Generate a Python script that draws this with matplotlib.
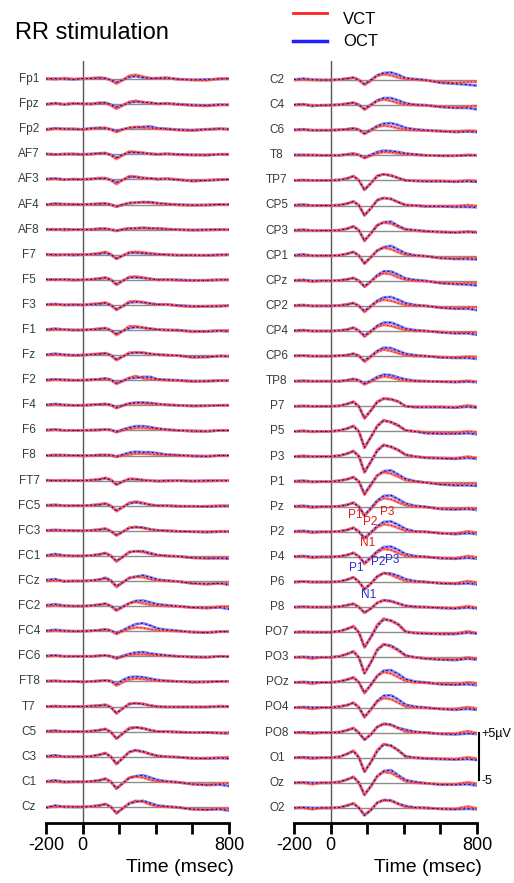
import matplotlib.pyplot as plt

plt.rcParams['font.family'] = ['Liberation Sans', 'DejaVu Sans']

W, H = 514, 883

# sample times (ms) of the traced waveforms
times = [-200, -150, -100, -50, 0, 50, 90, 125, 155, 185, 220, 255,
         290, 330, 370, 410, 460, 520, 600, 680, 750, 800]

left_channels = ["Fp1", "Fpz", "Fp2", "AF7", "AF3", "AF4", "AF8", "F7", "F5", "F3",
                 "F1", "Fz", "F2", "F4", "F6", "F8", "FT7", "FC5", "FC3", "FC1",
                 "FCz", "FC2", "FC4", "FC6", "FT8", "T7", "C5", "C3", "C1", "Cz"]
right_channels = ["C2", "C4", "C6", "T8", "TP7", "CP5", "CP3", "CP1", "CPz", "CP2",
                  "CP4", "CP6", "TP8", "P7", "P5", "P3", "P1", "Pz", "P2", "P4",
                  "P6", "P8", "PO7", "PO3", "POz", "PO4", "PO8", "O1", "Oz", "O2"]

# amplitudes in microvolts, positive up
vct_left = {
    "Fp1": [0.1, -0.1, 0.2, 0.0, 0.0, 0.2, 0.3, 0.2, -0.3, -1.0, -0.2, 0.7, 0.9, 0.5, 0.2, 0.1, 0.3, -0.1, -0.2, -0.3, 0.1, 0.0],
    "Fpz": [-0.1, 0.1, 0.0, 0.2, 0.0, 0.1, 0.3, 0.2, -0.3, -1.0, -0.3, 0.5, 0.7, 0.4, 0.2, 0.0, 0.2, -0.1, -0.3, -0.4, -0.2, -0.1],
    "Fp2": [-0.2, 0.1, 0.0, 0.1, -0.1, 0.1, 0.2, 0.3, -0.1, -0.6, -0.1, 0.3, 0.5, 0.3, 0.2, 0.1, 0.0, -0.2, -0.3, -0.1, 0.1, 0.0],
    "AF7": [0.0, -0.1, 0.1, 0.0, -0.1, 0.0, 0.2, 0.3, -0.2, -1.0, -0.2, 0.6, 0.5, 0.3, 0.1, 0.0, 0.1, -0.1, -0.2, -0.1, 0.0, 0.0],
    "AF3": [0.0, 0.1, -0.1, 0.1, 0.0, 0.1, 0.3, 0.3, -0.2, -1.0, -0.1, 0.7, 0.6, 0.3, 0.2, 0.0, 0.2, 0.0, -0.4, -0.2, 0.0, 0.0],
    "AF4": [-0.1, 0.1, 0.0, 0.1, 0.0, 0.0, 0.2, 0.2, -0.1, -0.5, -0.1, 0.3, 0.4, 0.5, 0.4, 0.2, 0.1, -0.1, -0.2, -0.1, 0.0, 0.0],
    "AF8": [0.0, 0.1, -0.1, 0.0, 0.0, 0.1, 0.1, 0.2, 0.0, -0.3, 0.1, 0.3, 0.2, 0.3, 0.2, 0.3, 0.1, 0.0, -0.1, -0.1, 0.0, 0.0],
    "F7": [0.0, -0.1, 0.0, 0.1, 0.0, 0.1, 0.3, 0.6, 0.1, -0.9, -0.2, 0.5, 0.6, 0.5, 0.3, 0.1, 0.0, -0.1, -0.1, -0.2, -0.1, 0.0],
    "F5": [0.0, 0.1, 0.0, -0.1, 0.0, 0.1, 0.3, 0.5, 0.0, -1.1, -0.2, 0.6, 0.7, 0.5, 0.2, 0.0, 0.1, -0.1, -0.2, -0.1, 0.0, 0.0],
    "F3": [0.0, 0.1, 0.0, 0.1, 0.0, 0.2, 0.3, 0.5, 0.0, -1.1, -0.2, 0.7, 0.8, 0.5, 0.2, 0.1, 0.1, -0.2, -0.4, -0.3, -0.2, -0.1],
    "F1": [0.0, 0.1, 0.1, 0.0, 0.0, 0.1, 0.3, 0.4, -0.1, -1.1, -0.2, 0.8, 0.8, 0.5, 0.2, 0.1, 0.0, -0.1, -0.4, -0.3, -0.1, -0.1],
    "Fz": [0.0, 0.1, 0.0, -0.1, 0.0, 0.2, 0.3, 0.4, -0.1, -1.1, -0.3, 0.5, 0.6, 0.5, 0.2, 0.1, 0.0, -0.1, -0.5, -0.4, -0.2, -0.2],
    "F2": [-0.1, 0.1, 0.0, 0.0, 0.0, 0.1, 0.2, 0.3, 0.0, -0.8, -0.2, 0.5, 0.9, 0.4, 0.2, 0.1, 0.0, -0.1, -0.3, -0.2, -0.1, -0.1],
    "F4": [0.0, 0.1, 0.0, 0.0, 0.0, 0.1, 0.2, 0.2, 0.0, -0.6, -0.1, 0.3, 0.4, 0.4, 0.3, 0.2, 0.1, 0.0, -0.2, -0.1, 0.0, 0.0],
    "F6": [0.0, 0.1, 0.0, 0.0, 0.0, 0.0, 0.1, 0.2, 0.1, -0.4, 0.0, 0.3, 0.5, 0.5, 0.4, 0.3, 0.1, 0.0, -0.2, -0.2, 0.0, 0.0],
    "F8": [0.0, 0.1, 0.0, 0.0, -0.1, 0.0, 0.1, 0.1, 0.0, -0.3, 0.0, 0.2, 0.4, 0.4, 0.3, 0.2, 0.1, 0.0, -0.1, -0.1, 0.0, 0.0],
    "FT7": [0.0, 0.0, 0.1, 0.0, 0.0, 0.1, 0.3, 0.6, 0.2, -0.9, -0.2, 0.4, 0.3, 0.1, 0.0, -0.1, -0.1, 0.0, -0.1, -0.1, 0.0, 0.0],
    "FC5": [0.0, 0.1, 0.0, 0.0, 0.0, 0.1, 0.3, 0.5, 0.0, -1.2, -0.3, 0.6, 0.9, 0.6, 0.2, 0.0, 0.0, -0.1, -0.2, -0.1, 0.0, 0.0],
    "FC3": [0.0, 0.1, 0.0, 0.1, 0.0, 0.1, 0.3, 0.5, -0.1, -1.0, -0.2, 0.7, 0.8, 0.6, 0.3, 0.1, 0.0, -0.1, -0.2, -0.2, -0.1, -0.1],
    "FC1": [0.0, 0.1, 0.0, 0.0, 0.0, 0.1, 0.3, 0.6, 0.0, -1.2, -0.2, 0.8, 1.0, 0.8, 0.4, 0.1, 0.0, -0.1, -0.4, -0.5, -0.4, -0.3],
    "FCz": [0.0, 0.1, 0.0, 0.0, 0.0, 0.1, 0.3, 0.5, 0.0, -1.3, -0.3, 0.7, 0.9, 0.8, 0.4, 0.1, 0.0, -0.1, -0.5, -0.7, -0.5, -0.4],
    "FC2": [0.0, 0.1, 0.0, 0.0, 0.0, 0.1, 0.3, 0.5, 0.0, -1.0, -0.2, 0.6, 0.9, 0.6, 0.3, 0.1, 0.0, -0.1, -0.3, -0.4, -0.1, -0.1],
    "FC4": [0.0, 0.1, 0.0, 0.0, 0.0, 0.1, 0.2, 0.4, 0.1, -0.6, 0.0, 0.5, 0.8, 0.7, 0.4, 0.2, 0.1, 0.0, -0.2, -0.3, -0.1, 0.0],
    "FC6": [0.0, 0.1, 0.0, 0.0, 0.0, 0.0, 0.1, 0.2, 0.0, -0.5, -0.1, 0.3, 0.4, 0.4, 0.3, 0.2, 0.1, 0.0, -0.2, -0.2, 0.0, 0.0],
    "FT8": [0.0, 0.1, 0.0, 0.0, -0.1, 0.0, 0.1, 0.2, 0.0, -0.9, -0.2, 0.4, 0.6, 0.5, 0.3, 0.1, 0.1, 0.0, -0.2, -0.1, 0.0, 0.0],
    "T7": [0.0, 0.0, 0.0, 0.0, 0.0, 0.1, 0.2, 0.4, -0.1, -1.5, -0.4, 0.6, 0.7, 0.6, 0.2, -0.1, -0.1, -0.1, -0.1, -0.1, 0.1, 0.0],
    "C5": [0.0, 0.1, 0.0, 0.0, 0.0, 0.1, 0.3, 0.6, -0.1, -1.5, -0.4, 0.8, 0.9, 0.7, 0.3, 0.0, 0.0, -0.1, -0.2, -0.2, -0.3, -0.2],
    "C3": [0.0, 0.1, 0.0, 0.0, 0.0, 0.1, 0.4, 0.8, 0.0, -1.6, -0.3, 1.0, 1.3, 1.0, 0.5, 0.1, 0.0, -0.1, -0.4, -0.3, -0.2, -0.1],
    "C1": [0.0, 0.1, -0.1, 0.0, 0.0, 0.1, 0.3, 0.7, 0.0, -1.5, -0.3, 0.9, 1.1, 0.9, 0.4, 0.1, 0.0, -0.1, -0.5, -0.6, -0.4, -0.3],
    "Cz": [0.0, 0.0, 0.1, 0.0, 0.0, 0.1, 0.3, 0.6, 0.0, -1.4, -0.3, 0.8, 1.3, 1.1, 0.5, 0.1, 0.0, -0.1, -0.5, -0.6, -0.3, -0.4],
}
oct_left = {
    "Fp1": [0.0, 0.1, 0.0, -0.1, 0.1, 0.1, 0.2, 0.1, -0.2, -0.7, -0.2, 0.4, 0.6, 0.3, 0.1, 0.2, 0.2, 0.0, -0.2, -0.1, 0.0, 0.1],
    "Fpz": [0.0, 0.2, -0.1, 0.1, 0.1, 0.0, 0.2, 0.3, -0.1, -0.6, -0.2, 0.3, 0.5, 0.4, 0.3, 0.1, 0.1, 0.0, -0.2, -0.3, -0.1, -0.2],
    "Fp2": [0.0, 0.2, 0.1, 0.0, 0.0, 0.2, 0.3, 0.2, 0.0, -0.4, 0.0, 0.3, 0.4, 0.5, 0.6, 0.2, 0.1, -0.1, -0.2, 0.0, 0.1, 0.0],
    "AF7": [0.1, 0.0, 0.0, 0.1, 0.0, 0.1, 0.2, 0.2, -0.1, -0.7, -0.1, 0.4, 0.4, 0.3, 0.1, 0.0, 0.1, 0.0, -0.1, -0.2, 0.0, 0.0],
    "AF3": [0.1, 0.2, 0.0, 0.0, 0.0, 0.1, 0.2, 0.2, -0.1, -0.6, -0.1, 0.5, 0.5, 0.3, 0.2, 0.1, 0.1, -0.1, -0.3, -0.2, -0.1, 0.0],
    "AF4": [0.0, 0.2, 0.1, 0.0, 0.0, 0.1, 0.1, 0.2, 0.0, -0.4, 0.0, 0.3, 0.4, 0.5, 0.5, 0.3, 0.1, 0.0, -0.1, -0.1, 0.0, 0.0],
    "AF8": [0.1, 0.0, 0.1, 0.0, 0.0, 0.0, 0.2, 0.2, 0.0, -0.2, 0.0, 0.2, 0.3, 0.4, 0.3, 0.2, 0.1, 0.0, -0.1, 0.0, 0.0, 0.0],
    "F7": [0.1, 0.0, 0.0, -0.1, 0.0, 0.1, 0.2, 0.4, 0.0, -0.8, -0.2, 0.4, 0.4, 0.3, 0.2, 0.1, 0.0, -0.1, -0.1, -0.1, 0.0, 0.0],
    "F5": [0.1, 0.0, 0.1, 0.0, 0.0, 0.1, 0.2, 0.4, 0.0, -0.9, -0.2, 0.5, 0.5, 0.4, 0.2, 0.0, 0.0, 0.0, -0.1, -0.1, 0.0, 0.0],
    "F3": [0.1, 0.2, 0.0, 0.0, 0.0, 0.1, 0.2, 0.4, -0.1, -0.9, -0.3, 0.5, 0.6, 0.6, 0.3, 0.1, 0.1, -0.1, -0.3, -0.3, -0.3, -0.2],
    "F1": [0.1, 0.3, 0.1, 0.0, 0.0, 0.1, 0.2, 0.4, -0.1, -0.8, -0.2, 0.4, 0.6, 0.5, 0.3, 0.1, 0.0, 0.0, -0.3, -0.3, -0.2, -0.3],
    "Fz": [0.1, 0.3, 0.1, 0.0, 0.0, 0.1, 0.2, 0.4, 0.0, -0.9, -0.3, 0.4, 0.5, 0.5, 0.3, 0.1, 0.0, -0.1, -0.4, -0.4, -0.2, -0.3],
    "F2": [0.1, 0.2, 0.1, 0.0, 0.0, 0.1, 0.2, 0.4, 0.1, -0.6, -0.1, 0.4, 0.5, 0.7, 0.7, 0.2, 0.1, 0.0, -0.2, -0.2, -0.1, -0.1],
    "F4": [0.1, 0.3, 0.1, 0.0, 0.0, 0.1, 0.2, 0.3, 0.1, -0.5, 0.0, 0.4, 0.6, 0.6, 0.5, 0.3, 0.1, 0.0, -0.1, -0.1, 0.0, 0.0],
    "F6": [0.1, 0.2, 0.0, 0.0, 0.0, 0.1, 0.1, 0.2, 0.1, -0.3, 0.2, 0.6, 0.9, 0.9, 0.7, 0.4, 0.2, 0.0, -0.1, -0.2, 0.0, 0.0],
    "F8": [0.0, 0.1, 0.1, 0.0, 0.0, 0.0, 0.1, 0.1, 0.1, -0.2, 0.2, 0.6, 0.8, 0.7, 0.7, 0.5, 0.2, 0.1, -0.1, -0.2, 0.0, 0.0],
    "FT7": [0.1, 0.0, 0.0, 0.0, 0.0, 0.1, 0.2, 0.5, 0.1, -0.8, -0.2, 0.3, 0.3, 0.1, 0.0, -0.1, 0.0, 0.0, -0.1, 0.0, 0.0, 0.0],
    "FC5": [0.1, 0.2, 0.0, 0.0, 0.0, 0.1, 0.2, 0.4, -0.1, -1.0, -0.3, 0.5, 0.7, 0.5, 0.2, 0.0, 0.0, -0.1, -0.1, -0.2, -0.1, -0.1],
    "FC3": [0.1, 0.2, 0.1, 0.0, 0.0, 0.1, 0.2, 0.4, -0.1, -0.9, -0.2, 0.6, 0.8, 0.7, 0.3, 0.1, 0.0, -0.1, -0.2, -0.3, -0.2, -0.2],
    "FC1": [0.1, 0.4, 0.1, 0.0, 0.0, 0.1, 0.3, 0.6, 0.0, -1.1, -0.2, 0.8, 1.0, 1.0, 0.6, 0.2, 0.0, -0.1, -0.4, -0.5, -0.5, -0.6],
    "FCz": [0.2, 0.4, -0.1, 0.0, 0.0, 0.1, 0.3, 0.7, 0.1, -1.1, -0.3, 0.6, 0.9, 1.2, 0.8, 0.3, 0.1, -0.1, -0.5, -0.6, -0.5, -0.8],
    "FC2": [0.2, 0.4, 0.1, 0.0, 0.0, 0.1, 0.3, 0.5, 0.0, -0.8, -0.1, 0.6, 1.1, 1.2, 0.8, 0.4, 0.2, 0.0, -0.3, -0.4, -0.3, -0.6],
    "FC4": [0.1, 0.3, 0.1, 0.0, 0.0, 0.1, 0.2, 0.4, 0.1, -0.4, 0.2, 0.9, 1.5, 1.7, 1.2, 0.6, 0.3, 0.1, -0.2, -0.3, -0.1, -0.1],
    "FC6": [0.1, 0.2, 0.0, 0.0, 0.0, 0.0, 0.1, 0.2, 0.0, -0.4, 0.1, 0.5, 0.8, 0.9, 0.6, 0.4, 0.2, 0.0, -0.1, -0.2, 0.0, -0.1],
    "FT8": [0.1, 0.1, 0.0, 0.0, -0.1, 0.0, 0.1, 0.2, 0.1, -0.6, 0.3, 0.9, 1.0, 0.9, 0.6, 0.3, 0.1, 0.0, -0.1, -0.1, 0.0, 0.0],
    "T7": [0.0, 0.1, 0.0, 0.0, 0.0, 0.1, 0.2, 0.3, -0.2, -1.4, -0.4, 0.5, 0.7, 0.5, 0.2, 0.0, -0.1, -0.1, -0.1, -0.1, 0.0, 0.0],
    "C5": [0.1, 0.2, 0.0, 0.0, 0.0, 0.1, 0.3, 0.5, -0.1, -1.5, -0.4, 0.6, 0.9, 0.7, 0.3, 0.0, 0.0, -0.1, -0.2, -0.2, -0.3, -0.4],
    "C3": [0.1, 0.3, 0.0, 0.0, 0.0, 0.1, 0.4, 0.7, 0.0, -1.5, -0.3, 1.0, 1.4, 1.1, 0.6, 0.2, 0.0, -0.1, -0.3, -0.4, -0.3, -0.4],
    "C1": [0.1, 0.3, 0.0, 0.0, 0.0, 0.1, 0.3, 0.6, 0.0, -1.4, -0.3, 0.8, 1.2, 1.4, 0.9, 0.4, 0.1, -0.1, -0.5, -0.7, -0.6, -0.9],
    "Cz": [-0.2, 0.3, 0.0, 0.0, 0.0, 0.1, 0.3, 0.6, 0.0, -1.3, -0.3, 0.7, 1.1, 1.3, 0.8, 0.3, 0.1, -0.1, -0.5, -0.6, -0.5, -0.8],
}
vct_right = {
    "C2": [0.0, 0.1, 0.0, 0.0, 0.0, 0.1, 0.3, 0.5, 0.0, -1.0, -0.2, 0.9, 1.2, 1.0, 0.5, 0.2, 0.1, -0.1, -0.4, -0.6, -0.4, -0.4],
    "C4": [0.0, 0.1, 0.0, -0.1, 0.0, 0.1, 0.3, 0.5, 0.1, -1.0, -0.1, 0.9, 1.2, 0.9, 0.4, 0.1, 0.0, -0.1, -0.3, -0.5, -0.3, -0.2],
    "C6": [0.0, 0.1, 0.0, 0.0, 0.0, 0.1, 0.2, 0.4, 0.1, -0.8, -0.1, 0.7, 1.0, 0.8, 0.4, 0.1, 0.0, -0.1, -0.2, -0.3, -0.1, -0.2],
    "T8": [0.0, 0.0, 0.1, 0.0, 0.0, 0.0, 0.2, 0.4, 0.1, -0.6, -0.1, 0.4, 0.7, 0.6, 0.4, 0.2, 0.1, 0.0, -0.1, -0.1, 0.1, 0.0],
    "TP7": [0.0, 0.0, 0.0, 0.0, 0.0, 0.1, 0.4, 0.9, 0.0, -2.0, -0.6, 1.0, 1.3, 1.1, 0.5, 0.0, -0.1, -0.1, -0.1, -0.2, 0.0, -0.1],
    "CP5": [0.0, 0.1, 0.0, 0.0, 0.0, 0.1, 0.4, 0.9, 0.1, -2.1, -0.6, 1.2, 1.6, 1.4, 0.7, 0.1, 0.0, -0.1, -0.1, -0.1, 0.1, -0.1],
    "CP3": [0.0, 0.1, 0.0, 0.0, 0.0, 0.1, 0.4, 0.9, 0.1, -2.2, -0.6, 1.2, 1.7, 1.5, 0.8, 0.2, 0.0, -0.2, -0.3, -0.4, -0.2, -0.3],
    "CP1": [0.0, 0.1, 0.0, 0.0, 0.0, 0.1, 0.4, 0.8, 0.0, -1.7, -0.4, 1.1, 1.7, 1.4, 0.7, 0.2, 0.0, -0.1, -0.5, -0.6, -0.4, -0.5],
    "CPz": [0.0, 0.1, -0.2, 0.0, 0.0, 0.1, 0.3, 0.6, 0.0, -1.3, -0.2, 1.0, 1.6, 1.4, 0.7, 0.2, 0.0, -0.1, -0.4, -0.6, -0.4, -0.5],
    "CP2": [0.0, 0.1, 0.0, 0.0, 0.0, 0.1, 0.3, 0.6, 0.0, -1.3, -0.2, 0.9, 1.3, 1.1, 0.6, 0.2, 0.0, 0.0, -0.3, -0.5, -0.3, -0.3],
    "CP4": [0.0, 0.1, 0.0, 0.0, 0.0, 0.1, 0.3, 0.7, 0.1, -1.2, -0.2, 0.9, 1.3, 1.1, 0.6, 0.2, 0.0, 0.0, -0.2, -0.4, -0.3, -0.3],
    "CP6": [0.0, 0.1, 0.0, 0.0, 0.0, 0.1, 0.2, 0.5, 0.1, -1.2, -0.2, 0.9, 1.4, 1.1, 0.6, 0.2, 0.0, 0.0, -0.2, -0.3, -0.1, -0.2],
    "TP8": [0.0, 0.0, 0.0, 0.0, 0.0, 0.0, 0.2, 0.4, 0.1, -0.7, -0.1, 0.6, 1.0, 0.8, 0.4, 0.1, 0.0, 0.0, -0.1, -0.1, 0.1, -0.1],
    "P7": [0.0, 0.0, 0.0, 0.0, 0.0, 0.1, 0.5, 1.0, 0.0, -2.6, -0.9, 1.0, 1.7, 1.5, 1.0, 0.0, -0.1, -0.1, -0.1, -0.2, 0.2, -0.1],
    "P5": [0.0, 0.1, -0.1, 0.0, 0.0, 0.2, 0.6, 1.2, 0.0, -3.5, -1.2, 1.2, 2.4, 1.9, 1.2, 0.2, 0.0, -0.2, -0.3, -0.3, 0.0, -0.2],
    "P3": [0.0, 0.1, 0.0, 0.0, 0.0, 0.2, 0.6, 1.2, 0.1, -3.4, -1.1, 1.4, 2.5, 2.0, 1.3, 0.3, 0.0, -0.2, -0.3, -0.4, 0.0, -0.3],
    "P1": [0.0, 0.1, -0.1, 0.0, 0.0, 0.2, 0.5, 1.0, 0.0, -2.8, -0.8, 1.3, 2.0, 1.7, 1.0, 0.3, 0.0, -0.2, -0.5, -0.6, -0.4, -0.5],
    "Pz": [0.0, 0.1, -0.2, 0.0, 0.0, 0.1, 0.4, 0.9, 0.0, -2.0, -0.5, 1.1, 1.8, 1.6, 0.9, 0.3, 0.0, -0.1, -0.4, -0.5, -0.3, -0.4],
    "P2": [0.0, 0.1, -0.2, 0.0, 0.0, 0.1, 0.4, 0.9, 0.1, -1.5, -0.3, 1.0, 1.6, 1.4, 0.8, 0.2, 0.0, 0.0, -0.3, -0.4, 0.1, -0.2],
    "P4": [0.0, 0.1, -0.2, 0.0, 0.0, 0.1, 0.4, 0.9, 0.1, -1.5, -0.3, 1.0, 1.7, 1.5, 0.8, 0.2, 0.0, 0.0, -0.2, -0.3, 0.2, -0.1],
    "P6": [0.0, 0.1, 0.0, 0.0, 0.0, 0.1, 0.5, 1.0, 0.1, -1.6, -0.4, 1.1, 1.9, 1.5, 0.8, 0.2, 0.0, 0.0, -0.2, -0.3, 0.2, -0.1],
    "P8": [0.0, 0.0, 0.0, 0.0, 0.0, 0.1, 0.4, 0.7, 0.0, -1.2, -0.3, 0.9, 1.4, 1.2, 0.7, 0.2, 0.0, 0.0, -0.1, -0.2, 0.2, -0.1],
    "PO7": [0.0, 0.0, 0.0, 0.0, 0.0, 0.2, 0.7, 1.3, 0.0, -3.2, -1.0, 1.6, 2.9, 2.4, 1.6, 0.1, -0.1, -0.2, -0.3, -0.3, 0.2, -0.2],
    "PO3": [0.0, 0.0, -0.3, 0.0, 0.0, 0.2, 0.7, 1.3, 0.0, -3.4, -1.1, 1.7, 2.8, 2.3, 1.4, 0.3, 0.0, -0.2, -0.4, -0.5, 0.0, -0.3],
    "POz": [0.0, 0.0, -0.3, 0.0, 0.0, 0.2, 0.6, 1.1, 0.0, -2.3, -0.6, 1.4, 2.2, 1.9, 1.1, 0.3, 0.0, -0.1, -0.3, -0.4, 0.0, -0.2],
    "PO4": [0.0, 0.0, -0.3, 0.0, 0.0, 0.2, 0.5, 1.0, 0.0, -2.1, -0.5, 1.3, 2.0, 1.8, 1.0, 0.2, 0.0, -0.1, -0.3, -0.3, 0.1, -0.2],
    "PO8": [0.0, 0.0, -0.2, 0.0, 0.0, 0.1, 0.5, 1.0, 0.0, -1.5, -0.4, 1.2, 1.8, 1.6, 0.9, 0.2, 0.0, 0.0, -0.2, -0.2, 0.3, -0.1],
    "O1": [0.0, 0.0, -0.2, 0.0, 0.0, 0.2, 0.8, 1.5, 0.1, -3.0, -0.9, 1.6, 2.9, 2.5, 1.5, 0.2, 0.0, -0.1, -0.2, -0.3, 0.1, -0.2],
    "Oz": [0.0, 0.0, -0.3, 0.0, 0.0, 0.2, 0.7, 1.3, 0.0, -2.6, -0.8, 1.4, 2.3, 2.1, 1.2, 0.3, 0.0, -0.1, -0.3, -0.3, 0.1, -0.2],
    "O2": [0.0, 0.0, -0.3, 0.0, 0.0, 0.1, 0.5, 1.0, 0.0, -1.5, -0.4, 1.1, 1.6, 1.5, 0.8, 0.2, 0.0, 0.0, -0.2, -0.2, 0.3, -0.1],
}
oct_right = {
    "C2": [0.1, 0.3, 0.1, 0.0, 0.0, 0.1, 0.3, 0.5, 0.0, -0.9, 0.0, 1.0, 1.5, 1.6, 1.1, 0.4, 0.2, 0.0, -0.6, -0.8, -1.0, -1.2],
    "C4": [0.1, 0.2, -0.2, 0.0, 0.0, 0.1, 0.3, 0.5, 0.0, -0.8, 0.1, 1.0, 1.5, 1.5, 1.0, 0.4, 0.1, 0.0, -0.4, -0.6, -0.6, -0.9],
    "C6": [0.1, 0.2, 0.0, 0.0, 0.0, 0.1, 0.2, 0.4, 0.1, -0.7, 0.1, 0.9, 1.4, 1.5, 1.1, 0.5, 0.2, 0.0, -0.2, -0.4, -0.3, -0.4],
    "T8": [0.1, 0.1, 0.0, 0.0, 0.0, 0.0, 0.2, 0.3, 0.1, -0.5, 0.1, 0.7, 1.0, 0.9, 0.7, 0.4, 0.2, 0.0, -0.1, -0.1, 0.0, 0.0],
    "TP7": [0.0, 0.1, 0.0, 0.0, 0.0, 0.1, 0.4, 0.9, 0.0, -2.0, -0.6, 0.9, 1.3, 1.0, 0.5, 0.0, -0.1, -0.2, -0.2, -0.3, -0.2, -0.3],
    "CP5": [0.1, 0.2, 0.0, 0.0, 0.0, 0.1, 0.4, 0.8, 0.0, -2.1, -0.6, 1.1, 1.6, 1.4, 0.7, 0.1, 0.0, -0.2, -0.2, -0.3, -0.3, -0.4],
    "CP3": [0.1, 0.2, 0.0, 0.0, 0.0, 0.1, 0.4, 0.9, 0.0, -2.1, -0.6, 1.1, 1.8, 1.9, 1.0, 0.3, 0.1, -0.1, -0.3, -0.4, -0.3, -0.4],
    "CP1": [0.1, 0.3, 0.0, 0.0, 0.0, 0.1, 0.4, 0.8, 0.0, -1.6, -0.3, 1.1, 1.8, 2.1, 1.3, 0.5, 0.1, -0.1, -0.5, -0.7, -0.7, -0.8],
    "CPz": [0.1, 0.2, 0.0, 0.0, 0.0, 0.1, 0.3, 0.6, 0.0, -1.2, -0.1, 1.2, 2.0, 2.0, 1.3, 0.5, 0.2, 0.0, -0.5, -0.7, -0.8, -1.0],
    "CP2": [0.1, 0.2, 0.0, 0.0, 0.0, 0.1, 0.3, 0.6, 0.0, -1.1, 0.0, 1.1, 1.8, 1.9, 1.3, 0.6, 0.2, 0.0, -0.4, -0.6, -0.6, -0.9],
    "CP4": [0.1, 0.2, 0.0, 0.0, 0.0, 0.1, 0.3, 0.7, 0.0, -1.0, 0.0, 1.1, 1.8, 1.8, 1.2, 0.5, 0.2, 0.0, -0.3, -0.5, -0.5, -0.8],
    "CP6": [0.1, 0.1, 0.0, 0.0, 0.0, 0.1, 0.2, 0.5, 0.0, -1.0, 0.0, 1.1, 1.8, 1.7, 1.1, 0.5, 0.2, 0.0, -0.3, -0.4, -0.4, -0.6],
    "TP8": [0.0, 0.1, 0.0, 0.0, 0.0, 0.0, 0.2, 0.5, 0.2, -0.5, 0.1, 0.9, 1.4, 1.3, 0.8, 0.4, 0.1, 0.0, -0.1, -0.2, -0.1, -0.2],
    "P7": [0.0, 0.1, 0.0, 0.0, 0.0, 0.1, 0.5, 0.9, -0.1, -2.5, -0.9, 0.9, 1.6, 1.5, 1.0, 0.0, -0.2, -0.2, -0.2, -0.3, -0.1, -0.3],
    "P5": [0.0, 0.1, 0.0, 0.0, 0.0, 0.2, 0.6, 1.1, -0.1, -3.4, -1.2, 1.1, 2.3, 2.0, 1.3, 0.2, 0.0, -0.4, -0.5, -0.5, -0.4, -0.6],
    "P3": [0.0, 0.1, 0.0, 0.0, 0.0, 0.2, 0.6, 1.1, 0.0, -3.3, -1.1, 1.2, 2.4, 2.1, 1.4, 0.4, 0.0, -0.3, -0.4, -0.5, -0.3, -0.5],
    "P1": [0.1, 0.2, 0.0, 0.0, 0.0, 0.2, 0.5, 0.9, 0.0, -2.6, -0.6, 1.3, 2.2, 2.4, 1.5, 0.6, 0.1, -0.2, -0.6, -0.8, -0.8, -0.9],
    "Pz": [0.1, 0.2, 0.0, 0.0, 0.0, 0.1, 0.4, 0.8, 0.0, -1.8, -0.3, 1.3, 2.3, 2.4, 1.6, 0.7, 0.2, 0.0, -0.5, -0.6, -0.5, -0.7],
    "P2": [0.1, 0.2, 0.0, 0.0, 0.0, 0.1, 0.4, 0.8, 0.0, -1.3, -0.1, 1.2, 2.1, 2.2, 1.5, 0.6, 0.1, 0.0, -0.3, -0.5, -0.3, -0.5],
    "P4": [0.1, 0.2, 0.0, 0.0, 0.0, 0.1, 0.4, 0.8, 0.1, -1.3, -0.1, 1.2, 2.1, 2.2, 1.5, 0.6, 0.2, 0.0, -0.3, -0.4, -0.2, -0.4],
    "P6": [0.0, 0.1, 0.0, 0.0, 0.0, 0.1, 0.5, 1.0, 0.0, -1.5, -0.3, 1.2, 1.9, 1.8, 1.3, 0.6, 0.2, 0.0, -0.3, -0.4, -0.3, -0.5],
    "P8": [0.0, 0.1, 0.0, 0.0, 0.0, 0.1, 0.4, 0.7, 0.0, -1.2, -0.3, 0.9, 1.5, 1.3, 0.8, 0.3, 0.1, 0.0, -0.2, -0.3, -0.1, -0.3],
    "PO7": [0.0, 0.1, 0.0, 0.0, 0.0, 0.2, 0.7, 1.2, -0.1, -3.2, -1.1, 1.3, 2.7, 2.5, 1.7, 0.1, -0.2, -0.3, -0.4, -0.4, -0.1, -0.3],
    "PO3": [0.0, 0.1, 0.0, 0.0, 0.0, 0.2, 0.7, 1.2, -0.1, -3.4, -1.1, 1.5, 2.7, 2.5, 1.6, 0.4, 0.0, -0.3, -0.5, -0.6, -0.3, -0.5],
    "POz": [0.0, 0.1, 0.0, 0.0, 0.0, 0.2, 0.6, 1.0, 0.0, -2.2, -0.5, 1.4, 2.5, 2.6, 1.8, 0.7, 0.2, 0.0, -0.4, -0.5, -0.4, -0.6],
    "PO4": [0.0, 0.1, 0.0, 0.0, 0.0, 0.2, 0.5, 1.0, 0.0, -2.0, -0.4, 1.4, 2.5, 2.6, 1.7, 0.6, 0.2, 0.0, -0.3, -0.5, -0.3, -0.5],
    "PO8": [0.0, 0.1, 0.0, 0.0, 0.0, 0.1, 0.5, 0.9, -0.1, -1.5, -0.4, 1.2, 1.9, 1.7, 1.0, 0.6, 0.2, 0.0, -0.3, -0.4, -0.2, -0.3],
    "O1": [0.0, 0.1, 0.0, 0.0, 0.0, 0.2, 0.8, 1.4, 0.0, -3.0, -1.0, 1.4, 2.8, 2.6, 1.6, 0.3, 0.0, -0.2, -0.3, -0.4, -0.3, -0.5],
    "Oz": [0.0, 0.1, 0.0, 0.0, 0.0, 0.2, 0.7, 1.2, 0.0, -2.5, -0.7, 1.4, 2.5, 2.7, 1.6, 0.6, 0.2, -0.1, -0.4, -0.4, -0.3, -0.6],
    "O2": [0.0, 0.1, 0.0, 0.0, 0.0, 0.1, 0.5, 0.9, 0.0, -1.6, -0.5, 1.1, 1.7, 1.6, 0.9, 0.4, 0.1, 0.0, -0.2, -0.3, -0.2, -0.3],
}

# peak labels written between Pz/P2 (VCT) and P4/P6 (OCT): (text, ms, pixel y)
vct_peaks = [("P1", 132, 515), ("P2", 215, 522), ("P3", 308, 512), ("N1", 205, 543)]
oct_peaks = [("P1", 138, 568), ("P2", 260, 562), ("P3", 338, 560), ("N1", 208, 595)]

PX_PER_UV = 4.7      # 10 uV scale bar is about 47 px tall
ROW_STEP = 25.1      # px between channel baselines
TOP, BOTTOM = 61, 823

fig = plt.figure(figsize=(W / 100, H / 100), dpi=100)


def add_column(x0, x1, first_y, names, vct, oct_, label_x):
    ax = fig.add_axes([x0 / W, 1 - BOTTOM / H, (x1 - x0) / W, (BOTTOM - TOP) / H])
    ax.set_xlim(-200, 800)
    ax.set_ylim(BOTTOM, TOP)
    for s in ["top", "left", "right"]:
        ax.spines[s].set_visible(False)
    ax.spines["bottom"].set_linewidth(2.0)
    ax.set_yticks([])
    ax.set_xticks([-200, 0, 200, 400, 600, 800])
    ax.set_xticklabels(["-200", "0", "", "", "", "800"])
    ax.tick_params(axis="x", direction="out", length=8, width=2.0, labelsize=13, pad=2)
    ax.axvline(0, color="#555555", lw=1.0, zorder=1)

    for i, name in enumerate(names):
        base = first_y + i * ROW_STEP
        ax.plot([-200, 800], [base, base], color="#8c8c8c", lw=1.0, zorder=1)
        yb = [base - v * PX_PER_UV for v in oct_[name]]
        yr = [base - v * PX_PER_UV for v in vct[name]]
        ax.plot(times, yb, color="#7070ff", lw=2.0, alpha=0.85, zorder=2)
        ax.plot(times, yr, color="#ff6060", lw=2.0, alpha=0.85, zorder=3)
        ax.plot(times, yb, color="#000090", lw=0.8, ls=(0, (1.5, 2.5)), zorder=4)
        ax.plot(times, yr, color="#c00000", lw=0.6, ls=(1, (1.5, 3)), zorder=4)
        fig.text(label_x / W, 1 - base / H, name, ha="center", va="center",
                 fontsize=8.5, color="#3a3a3a")
    return ax


axl = add_column(46, 229, 79, left_channels, vct_left, oct_left, 29)
axr = add_column(294, 477, 80, right_channels, vct_right, oct_right, 277)

for txt, t, y in vct_peaks:
    axr.text(t, y, txt, color="#e01818", fontsize=8.5, ha="center", va="center", zorder=6)
for txt, t, y in oct_peaks:
    axr.text(t, y, txt, color="#2a2ad8", fontsize=8.5, ha="center", va="center", zorder=6)

# axis labels
fig.text(180 / W, 1 - 868 / H, "Time (msec)", ha="center", va="center", fontsize=14)
fig.text(428 / W, 1 - 868 / H, "Time (msec)", ha="center", va="center", fontsize=14)

# title and legend
fig.text(15 / W, 1 - 33 / H, "RR stimulation", ha="left", va="center", fontsize=17)
fig.add_artist(plt.Line2D([293 / W, 327 / W], [1 - 13 / H, 1 - 13 / H], color="#ff2020", lw=2))
fig.add_artist(plt.Line2D([293 / W, 327 / W], [1 - 41 / H, 1 - 41 / H], color="#2020ff", lw=2.5))
fig.text(343 / W, 1 - 19 / H, "VCT", ha="left", va="center", fontsize=12)
fig.text(343 / W, 1 - 42 / H, "OCT", ha="left", va="center", fontsize=12)

# amplitude scale bar (+5 / -5 uV)
fig.add_artist(plt.Line2D([479 / W, 479 / W], [1 - 733 / H, 1 - 780 / H], color="black", lw=1.5))
fig.text(481 / W, 1 - 734 / H, "+5\u00b5V", ha="left", va="center", fontsize=9)
fig.text(481 / W, 1 - 781 / H, "-5", ha="left", va="center", fontsize=9)

fig.savefig("out.png", dpi=100)
